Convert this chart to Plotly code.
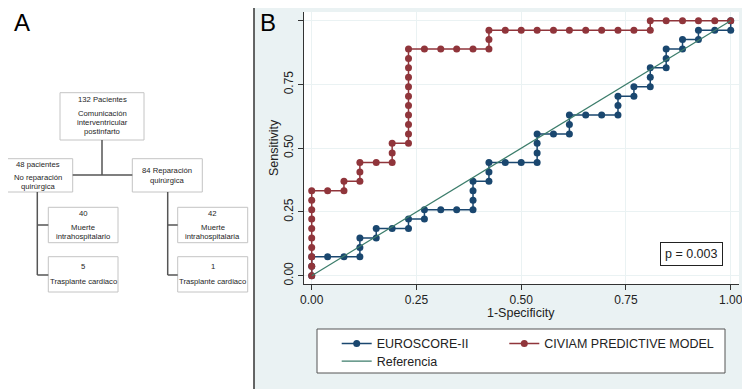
import plotly.graph_objects as go

# ---------------- data ----------------
euro_x = [0, 0, 0, 0.038, 0.077, 0.115, 0.115, 0.115, 0.154, 0.154, 0.192, 0.231, 0.231,
          0.269, 0.269, 0.308, 0.346, 0.385, 0.385, 0.385, 0.385, 0.423, 0.423, 0.423,
          0.462, 0.5, 0.538, 0.538, 0.538, 0.538, 0.577, 0.615, 0.615, 0.615, 0.654,
          0.692, 0.731, 0.731, 0.731, 0.769, 0.769, 0.808, 0.808, 0.808, 0.846, 0.846,
          0.846, 0.885, 0.885, 0.923, 0.923, 0.962, 1.0, 1.0]
euro_y = [0, 0.037, 0.074, 0.074, 0.074, 0.074, 0.111, 0.148, 0.148, 0.185, 0.185, 0.185, 0.222,
          0.222, 0.259, 0.259, 0.259, 0.259, 0.296, 0.333, 0.370, 0.370, 0.407, 0.444,
          0.444, 0.444, 0.444, 0.481, 0.519, 0.556, 0.556, 0.556, 0.593, 0.630, 0.630,
          0.630, 0.630, 0.667, 0.704, 0.704, 0.741, 0.741, 0.778, 0.815, 0.815, 0.852,
          0.889, 0.889, 0.926, 0.926, 0.963, 0.963, 0.963, 1.0]

civiam_x = [0, 0, 0, 0, 0, 0, 0, 0, 0, 0, 0.038, 0.077, 0.077, 0.115, 0.115, 0.115, 0.154,
            0.192, 0.192, 0.192, 0.231, 0.231, 0.231, 0.231, 0.231, 0.231, 0.231, 0.231,
            0.231, 0.231, 0.231, 0.269, 0.308, 0.346, 0.385, 0.423, 0.423, 0.423, 0.462,
            0.5, 0.538, 0.577, 0.615, 0.654, 0.692, 0.731, 0.769, 0.808, 0.808, 0.846,
            0.885, 0.923, 0.962, 1.0]
civiam_y = [0, 0.037, 0.074, 0.111, 0.148, 0.185, 0.222, 0.259, 0.296, 0.333, 0.333, 0.333,
            0.370, 0.370, 0.407, 0.444, 0.444, 0.444, 0.481, 0.519, 0.519, 0.556, 0.593,
            0.630, 0.667, 0.704, 0.741, 0.778, 0.815, 0.852, 0.889, 0.889, 0.889, 0.889,
            0.889, 0.889, 0.926, 0.963, 0.963, 0.963, 0.963, 0.963, 0.963, 0.963, 0.963,
            0.963, 0.963, 0.963, 1.0, 1.0, 1.0, 1.0, 1.0, 1.0]

ref_x = [0, 1]
ref_y = [0, 1]

series_names = ["EUROSCORE-II", "CIVIAM PREDICTIVE MODEL", "Referencia"]
tick_vals = [0, 0.25, 0.5, 0.75, 1.0]
tick_text = ["0.00", "0.25", "0.50", "0.75", "1.00"]
x_title = "1-Specificity"
y_title = "Sensitivity"
p_label = "p = 0.003"

# flowchart content
fc_total = ["132 Pacientes", "Comunicación", "interventricular", "postinfarto"]
fc_left = ["48 pacientes", "No reparación", "quirúrgica"]
fc_right = ["84 Reparación", "quirúrgica"]
fc_left_death = ["40", "Muerte", "intrahospitalario"]
fc_left_tx = ["5", "Trasplante cardiaco"]
fc_right_death = ["42", "Muerte", "intrahospitalaria"]
fc_right_tx = ["1", "Trasplante cardiaco"]

# ---------------- layout geometry (window pixels) ----------------
OFF = 8                      # page body margin of the browser
WIN_W, WIN_H = 750, 389
W, H = WIN_W - OFF, WIN_H - OFF
PL, PR, PT, PB = 304, 739, 12, 284   # plot area in window pixels


def fx(px):
    return (px - PL) / (PR - PL)


def fy(py):
    return (PB - py) / (PB - PT)


def cx(px):
    return (px - OFF) / W


def cy(py):
    return 1 - (py - OFF) / H


NAVY = "#1a476f"
MAROON = "#90353b"
GREEN = "#3c7d6b"
BG = "#eaf2f3"
FONT = "Liberation Sans, Arial, sans-serif"

fig = go.Figure()
fig.add_trace(go.Scatter(x=euro_x, y=euro_y, mode="lines+markers", name=series_names[0],
                         line=dict(color=NAVY, width=1.5),
                         marker=dict(color=NAVY, size=7), legend="legend"))
fig.add_trace(go.Scatter(x=civiam_x, y=civiam_y, mode="lines+markers", name=series_names[1],
                         line=dict(color=MAROON, width=1.5),
                         marker=dict(color=MAROON, size=7), legend="legend2"))
fig.add_trace(go.Scatter(x=ref_x, y=ref_y, mode="lines", name=series_names[2],
                         line=dict(color=GREEN, width=1.2), legend="legend3"))

shapes = []
annotations = []

# panel A white background and divider
shapes.append(dict(type="rect", xref="paper", yref="paper", x0=fx(0), x1=fx(254), y0=fy(400), y1=fy(0),
                   fillcolor="white", line=dict(width=0), layer="below"))
shapes.append(dict(type="line", xref="paper", yref="paper", x0=fx(254), x1=fx(254), y0=fy(400), y1=fy(0),
                   line=dict(color="#333333", width=1.5), layer="below"))

# legend box
shapes.append(dict(type="rect", xref="paper", yref="paper", x0=fx(317), x1=fx(725), y0=fy(373), y1=fy(329),
                   fillcolor="white", line=dict(color="#555555", width=1), layer="below"))

# flowchart boxes
boxes = [(60, 92.7, 144, 140), (3.3, 158.7, 72.7, 192), (132.3, 158.7, 202.3, 192),
         (48.3, 207.3, 118, 242.7), (48.3, 256.7, 118, 292),
         (177.7, 207.3, 247.7, 242.7), (177.7, 256.7, 247.7, 292)]
for (x0, y0, x1, y1) in boxes:
    shapes.append(dict(type="rect", xref="paper", yref="paper", x0=fx(x0), x1=fx(x1), y0=fy(y1), y1=fy(y0),
                       fillcolor="white", line=dict(color="#c4c4c4", width=1), layer="below"))

connectors = [(102, 140, 102, 175), (72.7, 175, 132.3, 175),
              (37.3, 192, 37.3, 275), (37.3, 225, 48.3, 225), (37.3, 275, 48.3, 275),
              (167.7, 192, 167.7, 275), (167.7, 225, 177.7, 225), (167.7, 275, 177.7, 275)]
for (x0, y0, x1, y1) in connectors:
    shapes.append(dict(type="line", xref="paper", yref="paper", x0=fx(x0), x1=fx(x1), y0=fy(y0), y1=fy(y1),
                       line=dict(color="#555555", width=1.5), layer="below"))


def add_lines(texts, cxp, ys):
    for t, yy in zip(texts, ys):
        annotations.append(dict(text=t, xref="paper", yref="paper", x=fx(cxp), y=fy(yy),
                                xanchor="center", yanchor="middle", showarrow=False,
                                font=dict(family=FONT, size=7.7, color="#1e1e1e")))


add_lines(fc_total, 102, [100, 113.3, 122.7, 131.7])
add_lines(fc_left, 38, [164, 177, 186.3])
add_lines(fc_right, 167.3, [170.7, 180.3])
add_lines(fc_left_death, 83.2, [213.3, 227.3, 236.7])
add_lines(fc_left_tx, 83.2, [266.7, 281])
add_lines(fc_right_death, 212.7, [213.3, 227.3, 236.7])
add_lines(fc_right_tx, 212.7, [266.7, 281])

# panel letters (kept fully inside the page)
annotations.append(dict(text="A", xref="paper", yref="paper", x=fx(22), y=fy(8.5), xanchor="center",
                        yanchor="top", borderpad=0, showarrow=False,
                        font=dict(family=FONT, size=24, color="black")))
annotations.append(dict(text="B", xref="paper", yref="paper", x=fx(268), y=fy(8.5), xanchor="center",
                        yanchor="top", borderpad=0, showarrow=False,
                        font=dict(family=FONT, size=24, color="black")))

# axis titles
annotations.append(dict(text=x_title, xref="paper", yref="paper", x=fx(521), y=fy(313), xanchor="center",
                        yanchor="middle", showarrow=False, font=dict(family=FONT, size=12.5, color="#222222")))
annotations.append(dict(text=y_title, xref="paper", yref="paper", x=fx(274), y=fy(148), xanchor="center",
                        yanchor="middle", textangle=-90, showarrow=False,
                        font=dict(family=FONT, size=12.5, color="#222222")))

# p-value box
annotations.append(dict(text=p_label, xref="paper", yref="paper", x=fx(723), y=fy(266), xanchor="right",
                        yanchor="bottom", showarrow=False, bgcolor="white", bordercolor="#222222",
                        borderwidth=1, borderpad=4, font=dict(family=FONT, size=12.5, color="#222222")))

axis_common = dict(tickvals=tick_vals, ticktext=tick_text, showgrid=True, gridcolor=BG, gridwidth=1,
                   zeroline=False, showline=True, linecolor="#333333", linewidth=1,
                   ticks="outside", ticklen=5, tickcolor="#333333",
                   tickfont=dict(family=FONT, size=12, color="#222222"))

legend_common = dict(orientation="v", xref="container", yref="container", xanchor="left", yanchor="top",
                     bgcolor="rgba(0,0,0,0)", borderwidth=0,
                     font=dict(family=FONT, size=12.5, color="#222222"))

fig.update_layout(
    width=W, height=H,
    margin=dict(l=PL - OFF, r=WIN_W - PR, t=PT - OFF, b=WIN_H - PB, pad=0, autoexpand=False),
    paper_bgcolor=BG, plot_bgcolor="white",
    font=dict(family=FONT, color="#222222"),
    xaxis=dict(range=[-0.0184, 1.0198], **axis_common),
    yaxis=dict(range=[-0.0325, 1.0341], tickangle=-90, **axis_common),
    showlegend=True,
    legend=dict(x=cx(336.7), y=cy(328.8), **legend_common),
    legend2=dict(x=cx(504.3), y=cy(328.8), **legend_common),
    legend3=dict(x=cx(336.7), y=cy(346.5), **legend_common),
    shapes=shapes,
    annotations=annotations,
)

fig.write_html("out.html")
